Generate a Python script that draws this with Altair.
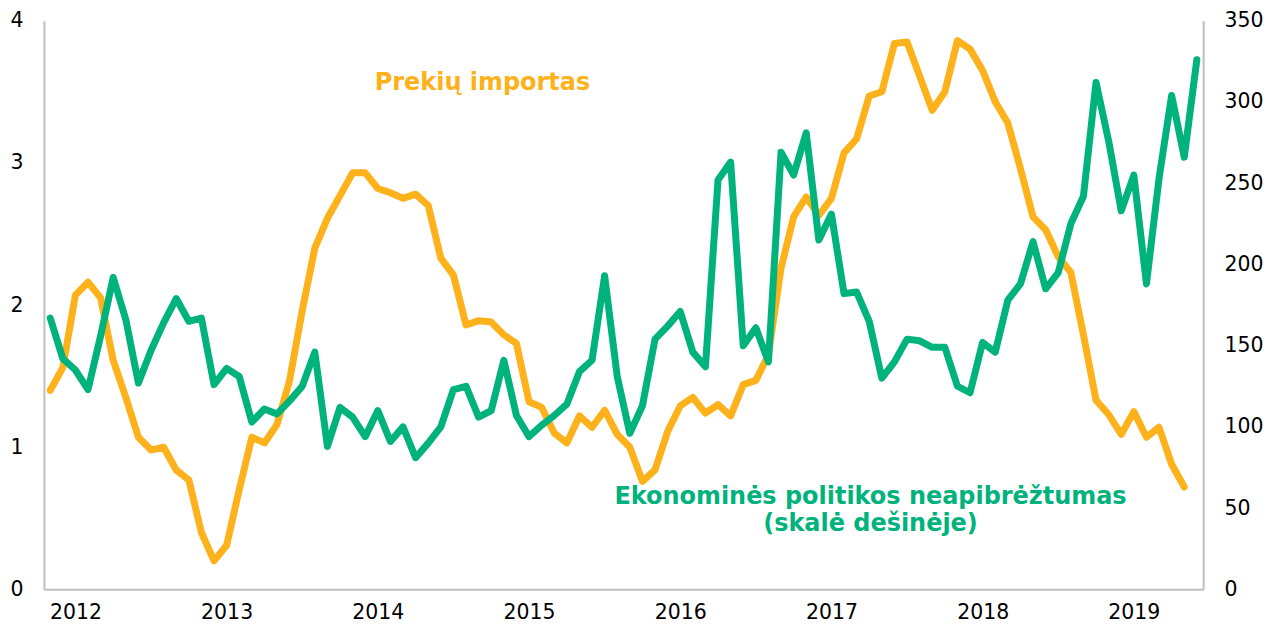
import altair as alt
import pandas as pd

# Monthly observations, starting November 2011
months = pd.date_range("2011-11-01", periods=92, freq="MS").strftime("%Y-%m").tolist()

# Prekių importas (left axis)
imports = [1.40, 1.56, 2.07, 2.16, 2.05, 1.61, 1.35, 1.07, 0.98, 1.00,
           0.84, 0.77, 0.40, 0.20, 0.31, 0.70, 1.07, 1.03, 1.16, 1.47,
           1.96, 2.40, 2.61, 2.77, 2.93, 2.93, 2.82, 2.79, 2.75, 2.78,
           2.70, 2.33, 2.21, 1.86, 1.89, 1.88, 1.79, 1.73, 1.32, 1.28,
           1.10, 1.03, 1.22, 1.14, 1.26, 1.09, 1.00, 0.76, 0.84, 1.11,
           1.29, 1.35, 1.24, 1.30, 1.22, 1.44, 1.47, 1.65, 2.26, 2.62,
           2.76, 2.63, 2.75, 3.07, 3.17, 3.47, 3.50, 3.84, 3.85, 3.61,
           3.37, 3.50, 3.86, 3.80, 3.65, 3.43, 3.28, 2.96, 2.62, 2.53,
           2.34, 2.23, 1.79, 1.33, 1.23, 1.09, 1.25, 1.07, 1.14, 0.88,
           0.72]

# Ekonominės politikos neapibrėžtumas (right axis)
epu = [167, 142, 135, 123, 156, 192, 166, 127, 147, 164,
       179, 165, 167, 126, 136, 131, 103, 111, 108, 116,
       125, 146, 88, 112, 106, 94, 110, 91, 100, 81,
       90, 100, 123, 125, 106, 110, 141, 107, 94, 101,
       107, 114, 134, 141, 193, 131, 96, 113, 154, 162,
       171, 146, 137, 252, 263, 150, 161, 140, 269, 255,
       281, 215, 231, 182, 183, 165, 130, 140, 154, 153,
       149, 149, 125, 121, 152, 146, 178, 188, 214, 185,
       195, 225, 242, 312, 276, 233, 255, 188, 253, 304,
       266, 326]

years = ["2012", "2013", "2014", "2015", "2016", "2017", "2018", "2019"]
left_ticks = [0, 1, 2, 3, 4]
right_ticks = [0, 50, 100, 150, 200, 250, 300, 350]

ORANGE = "#FDB11A"
GREEN = "#00B27C"
FONT = "DejaVu Sans"

df_imp = pd.DataFrame({"idx": list(range(len(imports))), "month": months[:len(imports)], "imp": imports})
df_epu = pd.DataFrame({"idx": list(range(len(epu))), "month": months[:len(epu)], "epu": epu})

# January positions for year labels
jan_idx = [months.index(y + "-01") for y in years]
year_arr = "[" + ",".join("'%s'" % y for y in years) + "]"
label_expr = f"{year_arr}[round((datum.value - {jan_idx[0]}) / 12)]"

axis_common = dict(domainColor="#BFBFBF", domainWidth=2, ticks=False, tickSize=0,
                   grid=False, labelFont=FONT, labelFontSize=20.5, labelColor="#000000",
                   title=None)

x_enc = alt.X("idx:Q",
              scale=alt.Scale(domain=[-0.5, len(months) - 0.5], nice=False, zero=False),
              axis=alt.Axis(values=jan_idx, labelExpr=label_expr, labelPadding=13,
                            **axis_common))

y_left = alt.Y("imp:Q", scale=alt.Scale(domain=[0, 4], nice=False),
               axis=alt.Axis(values=left_ticks, orient="left", labelPadding=21, **axis_common))
y_right = alt.Y("epu:Q", scale=alt.Scale(domain=[0, 350], nice=False),
                axis=alt.Axis(values=right_ticks, orient="right", labelPadding=21,
                              labelAlign="left", **axis_common))

line_imp = alt.Chart(df_imp).mark_line(color=ORANGE, strokeWidth=7, strokeCap="round",
                                       strokeJoin="round").encode(x=x_enc, y=y_left)
line_epu = alt.Chart(df_epu).mark_line(color=GREEN, strokeWidth=7, strokeCap="round",
                                       strokeJoin="round").encode(x=x_enc, y=y_right)

lab_imp = pd.DataFrame({"idx": [34.3], "imp": [3.565], "t": ["Prekių importas"]})
lab_epu = pd.DataFrame({"idx": [65.1, 65.1], "epu": [57.0, 40.0],
                        "t": ["Ekonominės politikos neapibrėžtumas", "(skalė dešinėje)"]})

text_imp = alt.Chart(lab_imp).mark_text(font=FONT, fontSize=24, fontWeight="bold",
                                        color=ORANGE, align="center", baseline="middle").encode(
    x=x_enc, y=y_left, text="t:N")
text_epu = alt.Chart(lab_epu).mark_text(font=FONT, fontSize=24, fontWeight="bold",
                                        color=GREEN, align="center", baseline="middle").encode(
    x=x_enc, y=y_right, text="t:N")

left = alt.layer(line_imp, text_imp)
right = alt.layer(line_epu, text_epu)

chart = alt.layer(left, right).resolve_scale(y="independent").properties(
    width=1162, height=570,
    autosize=alt.AutoSizeParams(type="none"),
    padding={"left": 36, "top": 12, "right": 60, "bottom": 40},
    background="white",
).configure_view(stroke=None)

chart.save("out.html", embed_options={"renderer": "svg", "actions": False})
